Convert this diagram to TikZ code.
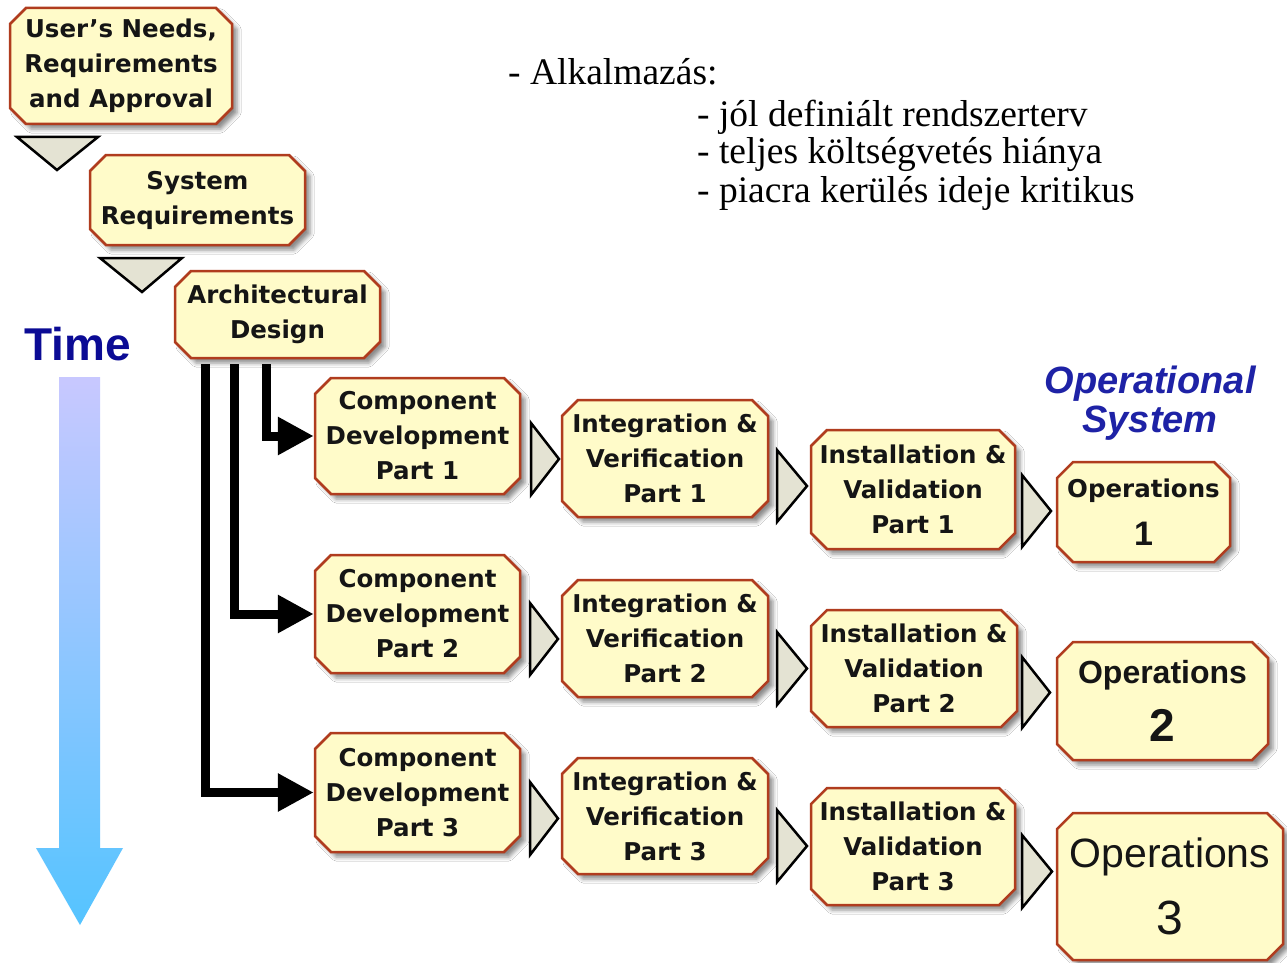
\documentclass[tikz,border=0pt]{standalone}
\usepackage{fontspec}
\setmainfont{Liberation Serif}
\newfontfamily\boxfont{DejaVu Sans}
\newfontfamily\labelfont{Liberation Sans}
\usetikzlibrary{arrows.meta,shapes.misc,shadows.blur}

\definecolor{boxfill}{HTML}{FFFBC9}
\definecolor{boxborder}{HTML}{B03C1E}
\definecolor{boxtext}{HTML}{151515}
\definecolor{chevfill}{HTML}{E4E3D3}
\definecolor{timeblue}{HTML}{0B0B95}
\definecolor{opblue}{HTML}{1E22A6}
\definecolor{arrowtop}{HTML}{C8C8FF}
\definecolor{arrowbottom}{HTML}{55C4FF}

% right-pointing chevron between two phases: x left, x tip, y top, y bottom
\newcommand\rchev[4]{\draw[chev] (#1,#3) -- (#2,{(#3+#4)/2}) -- (#1,#4) -- cycle;}

\begin{document}
\begin{tikzpicture}[x=1pt,y=-1pt,
  box/.style={chamfered rectangle, chamfered rectangle xsep=8pt,
    chamfered rectangle ysep=8pt, anchor=center,
    draw=boxborder, line width=2.5pt, fill=boxfill, text=boxtext,
    align=center, inner sep=0pt,
    font=\boxfont\bfseries\fontsize{24.5}{35}\selectfont,
    blur shadow={shadow xshift=5pt, shadow yshift=-5pt,
      shadow blur radius=4pt, shadow opacity=45}},
  note/.style={anchor=base west, inner sep=0pt, font=\fontsize{37.5}{40}\selectfont},
  chev/.style={draw=black, line width=2.5pt, fill=chevfill, line join=miter},
  conn/.style={draw=black, line width=9pt, line join=miter,
    -{Triangle[length=36pt,width=36pt]}}]

\useasboundingbox[fill=white] (0,0) rectangle (1287,963);

% Time axis
\shade[top color=arrowtop, bottom color=arrowbottom]
  (59,377) -- (100,377) -- (100,848) -- (123,848) -- (80,925)
  -- (36,848) -- (59,848) -- cycle;
\node[anchor=base west, inner sep=0pt, text=timeblue,
  font=\labelfont\bfseries\fontsize{46}{50}\selectfont] (time) at (24,360) {Time};

% Notes
\node[note] (app) at (508,85) {- Alkalmazás:};
\node[note] (note1) at (697,127) {- jól definiált rendszerterv};
\node[note] (note2) at (697,164) {- teljes költségvetés hiánya};
\node[note] (note3) at (697,202) {- piacra kerülés ideje kritikus};

\node[anchor=base, inner sep=0pt, text=opblue, align=center,
  font=\labelfont\bfseries\itshape\fontsize{38}{39}\selectfont]
  (opsys) at (1150,432) {Operational\\System};

% Down-stepping chevrons between the front-end phases
\draw[chev] (17,137) -- (98,137) -- (57,170) -- cycle;
\draw[chev] (100,258) -- (182,258) -- (142,292) -- cycle;

% Front-end phases
\node[box, minimum width=222pt, minimum height=116pt] (needs) at (121,66)
  {User’s Needs,\\Requirements\\and Approval};
\node[box, minimum width=215pt, minimum height=90pt] (sysreq) at (197.5,200)
  {System\\Requirements};
\node[box, minimum width=205pt, minimum height=87pt] (arch) at (277.5,314.5)
  {Architectural\\Design};

% Increment 1
\node[box, minimum width=205pt, minimum height=116pt] (cd1) at (417.5,436)
  {Component\\Development\\Part 1};
\node[box, minimum width=206pt, minimum height=117pt] (iv1) at (665,458.5)
  {Integration \&\\Verification\\Part 1};
\node[box, minimum width=204pt, minimum height=119pt] (in1) at (913,489.5)
  {Installation \&\\Validation\\Part 1};
\node[box, minimum width=173pt, minimum height=100pt] (op1) at (1143.5,512)
  {Operations\\[13pt]{\labelfont\bfseries\fontsize{34}{34}\selectfont 1}};

% Increment 2
\node[box, minimum width=205pt, minimum height=118pt] (cd2) at (417.5,614)
  {Component\\Development\\Part 2};
\node[box, minimum width=206pt, minimum height=117pt] (iv2) at (665,638.5)
  {Integration \&\\Verification\\Part 2};
\node[box, minimum width=206pt, minimum height=117pt] (in2) at (914,668.5)
  {Installation \&\\Validation\\Part 2};
\node[box, minimum width=211pt, minimum height=118pt,
  font=\labelfont\bfseries\fontsize{32}{38}\selectfont] (op2) at (1162.5,701)
  {Operations\\[19pt]{\fontsize{46}{46}\selectfont 2}};

% Increment 3
\node[box, minimum width=205pt, minimum height=119pt] (cd3) at (417.5,792.5)
  {Component\\Development\\Part 3};
\node[box, minimum width=206pt, minimum height=116pt] (iv3) at (665,816)
  {Integration \&\\Verification\\Part 3};
\node[box, minimum width=204pt, minimum height=117pt] (in3) at (913,846.5)
  {Installation \&\\Validation\\Part 3};
\node[box, minimum width=226pt, minimum height=147pt,
  font=\labelfont\fontsize{41}{45}\selectfont] (op3) at (1170,886.5)
  {Operations\\[22pt]{\fontsize{48}{48}\selectfont 3}};

% Hand-offs from the architecture to each increment
\draw[conn] ([xshift=-72.5pt,yshift=-5pt]arch.south) |- (cd3.west);
\draw[conn] ([xshift=-43.5pt,yshift=-5pt]arch.south) |- (cd2.west);
\draw[conn] ([xshift=-11.5pt,yshift=-5pt]arch.south) |- (cd1.west);

% Chevrons along each increment
\rchev{531}{559}{423}{495}
\rchev{777}{807}{450}{522}
\rchev{1022}{1051}{475}{547}
\rchev{530}{558}{603}{675}
\rchev{777}{807}{632}{705}
\rchev{1022}{1050}{657}{728}
\rchev{530}{558}{782}{855}
\rchev{777}{807}{810}{882}
\rchev{1022}{1052}{835}{908}
\end{tikzpicture}
\end{document}
